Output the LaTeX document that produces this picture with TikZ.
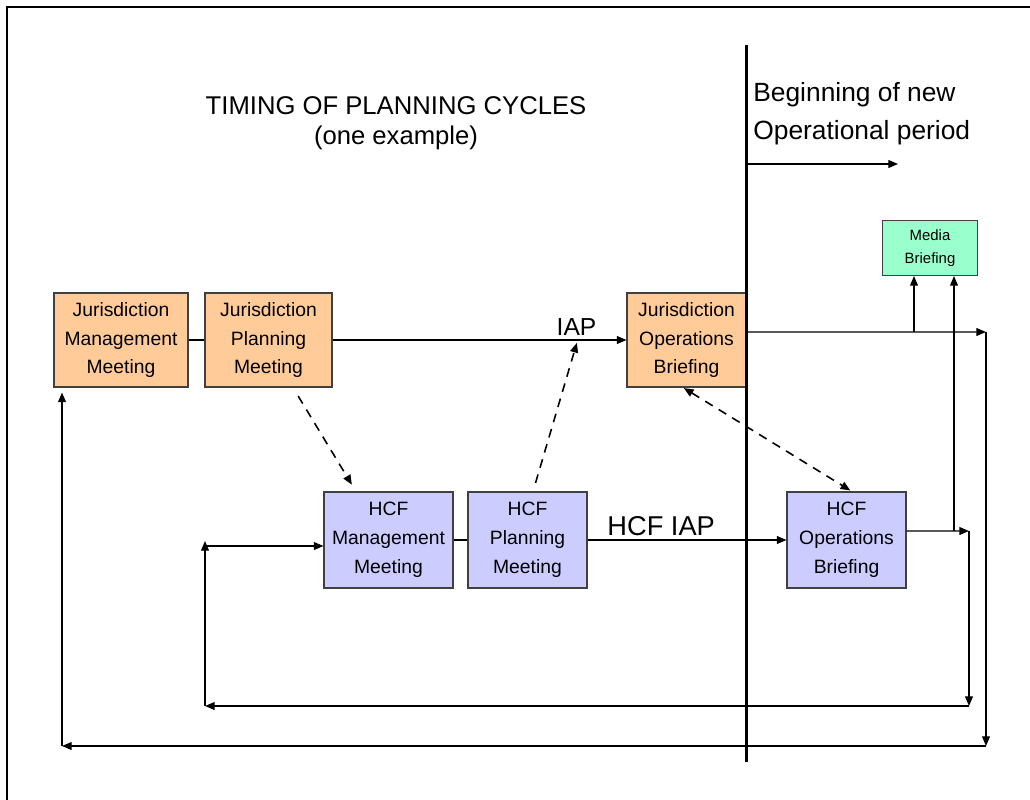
\documentclass[tikz,border=0pt]{standalone}
\usepackage{fontspec}
\setmainfont{Liberation Sans}
\usetikzlibrary{arrows.meta}

\definecolor{jurfill}{HTML}{FFCC99}
\definecolor{hcffill}{HTML}{CCCCFF}
\definecolor{medfill}{HTML}{99FFCC}

\begin{document}
\begin{tikzpicture}[x=0.02cm, y=-0.02cm,
  box/.style={draw=black!75, line width=0.6pt, align=center, inner sep=0pt,
    font=\fontsize{11}{16.4}\selectfont},
  jur/.style={box, fill=jurfill},
  hcf/.style={box, fill=hcffill},
  arr/.style={line width=0.7pt, -{Triangle[length=5.5pt,width=4.5pt]}},
  dasharr/.style={arr, dashed, dash pattern=on 5pt off 4pt, line width=0.9pt}]
\useasboundingbox (0,0) rectangle (1030,799);

% Frame
\draw[line width=1.2pt] (7,800) -- (7,7) -- (1031,7);

% Nodes
\node[jur, minimum width=2.68cm, minimum height=1.88cm] (jmm) at (121,340) {Jurisdiction\\Management\\Meeting};
\node[jur, minimum width=2.54cm, minimum height=1.88cm] (jpm) at (268.5,340) {Jurisdiction\\Planning\\Meeting};
\node[jur, minimum width=2.38cm, minimum height=1.88cm] (job) at (686.5,340) {Jurisdiction\\Operations\\Briefing};
\node[hcf, minimum width=2.58cm, minimum height=1.92cm] (hmm) at (388.5,540) {HCF\\Management\\Meeting};
\node[hcf, minimum width=2.38cm, minimum height=1.92cm] (hpm) at (527.5,540) {HCF\\Planning\\Meeting};
\node[hcf, minimum width=2.38cm, minimum height=1.92cm] (hob) at (846.5,540) {HCF\\Operations\\Briefing};
\node[box, fill=medfill, minimum width=1.9cm, minimum height=1.1cm,
  font=\fontsize{8.5}{13.5}\selectfont] (media) at (930,248) {Media\\Briefing};

% Texts
\node[align=center, font=\fontsize{14.6}{17}\selectfont] (title) at (396,123)
  {TIMING OF PLANNING CYCLES\\(one example)};
\node[align=left, anchor=west, inner sep=0pt, font=\fontsize{15}{21.5}\selectfont] (period) at (753,114)
  {Beginning of new\\Operational period};

% Divider
\draw[line width=1.7pt] (746,45) -- (746,762);
\coordinate (opstart) at (747,164);
\coordinate (opend) at (898,164);
\draw[arr] (opstart) -- (opend);

% Links
\draw[line width=0.6pt] (jmm.east) -- (jpm.west);
\draw[arr] (jpm.east) -- node[pos=0.83, above=-1pt, font=\fontsize{14}{16}\selectfont] {IAP}
  coordinate[pos=0.834] (iapin) (job.west);
\draw[line width=0.6pt] (hmm.east) -- (hpm.west);
\draw[arr] (hpm.east) -- node[pos=0.37, above=-1pt, font=\fontsize{15.5}{17}\selectfont] {HCF IAP} (hob.west);

% Dashed links
\draw[dasharr, shorten <=0.2cm, shorten >=0.16cm] ([xshift=0.49cm]jpm.south) -- ([xshift=-0.65cm]hmm.north);
\draw[dasharr, shorten <=0.18cm, shorten >=0.06cm] ([xshift=0.11cm]hpm.north) -- (iapin);
\draw[dasharr, <->, >={Triangle[length=5.5pt,width=4.5pt]}, shorten <=0.02cm, shorten >=0.04cm]
  ([xshift=-0.07cm]job.south) -- ([xshift=0.11cm]hob.north);

% Outer loop
\coordinate (c1) at (986,332);
\coordinate (c2) at (986,746);
\coordinate (c3) at (62,746);
\coordinate (m1) at (914,332);
\draw[arr] ([yshift=0.16cm]job.east) -- (c1);
\draw[arr] (c1) -- (c2);
\draw[arr] (c2) -- (c3);
\draw[arr, shorten >=0.1cm] (c3) -- (c3 |- jmm.south);
\draw[arr] (m1) -- (m1 |- media.south);

% Inner loop
\coordinate (c4) at (969,531);
\coordinate (c5) at (969,706);
\coordinate (c6) at (205,706);
\coordinate (c7) at (205,541);
\coordinate (m2) at (954,531);
\draw[arr] ([yshift=0.18cm]hob.east) -- (c4);
\draw[arr] (c4) -- (c5);
\draw[arr] (c5) -- (c6);
\draw[arr] (c6) -- (c7);
\draw[arr] (205,546) -- (205,546 -| hmm.west);
\draw[arr] (m2) -- (m2 |- media.south);
\end{tikzpicture}
\end{document}
